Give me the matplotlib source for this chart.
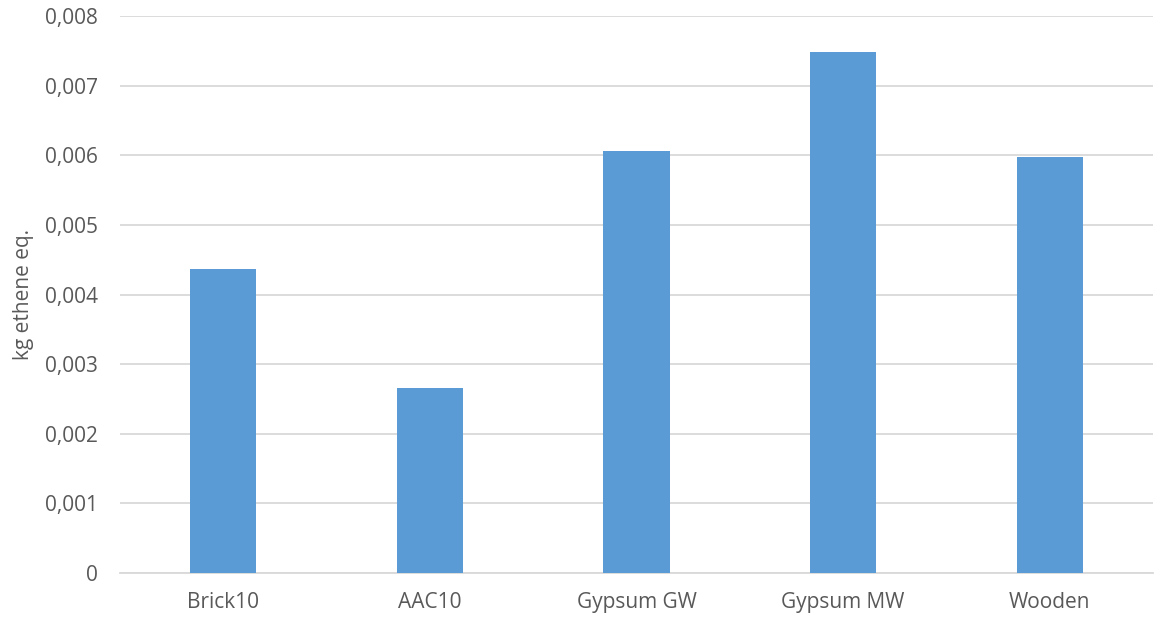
import matplotlib
matplotlib.use('Agg')
import matplotlib.pyplot as plt
from matplotlib.ticker import FuncFormatter

categories = ['Brick10', 'AAC10', 'Gypsum GW', 'Gypsum MW', 'Wooden']
values = [0.00436, 0.00265, 0.00606, 0.00749, 0.00598]
y_ticks = [0, 0.001, 0.002, 0.003, 0.004, 0.005, 0.006, 0.007, 0.008]

plt.rcParams['font.family'] = ['Open Sans', 'DejaVu Sans']
text_col = '#595959'

fig = plt.figure(figsize=(11.56, 6.29), dpi=100)
ax = fig.add_axes([120 / 1156, (629 - 573) / 629, (1153 - 120) / 1156, (573 - 16) / 629])

x = range(len(categories))
ax.bar(x, values, width=0.32, color='#5b9bd5', zorder=3)

ax.set_xlim(-0.5, len(categories) - 0.5)
ax.set_ylim(0, 0.008)
ax.set_yticks(y_ticks)
ax.yaxis.set_major_formatter(FuncFormatter(
    lambda v, p: '0' if v == 0 else f'{v:.3f}'.replace('.', ',')))
ax.set_xticks(list(x))
ax.set_xticklabels(categories)

ax.grid(axis='y', color='#d9d9d9', linewidth=1.3, zorder=0)
for s in ['top', 'right', 'left']:
    ax.spines[s].set_visible(False)
ax.spines['bottom'].set_color('#d9d9d9')
ax.spines['bottom'].set_linewidth(1.3)
ax.tick_params(axis='both', length=0, labelsize=15, colors=text_col)
ax.tick_params(axis='y', pad=16)
ax.tick_params(axis='x', pad=14)
ax.set_ylabel('kg ethene eq.', fontsize=15, color=text_col, labelpad=8)

fig.savefig('out.png', dpi=100)
